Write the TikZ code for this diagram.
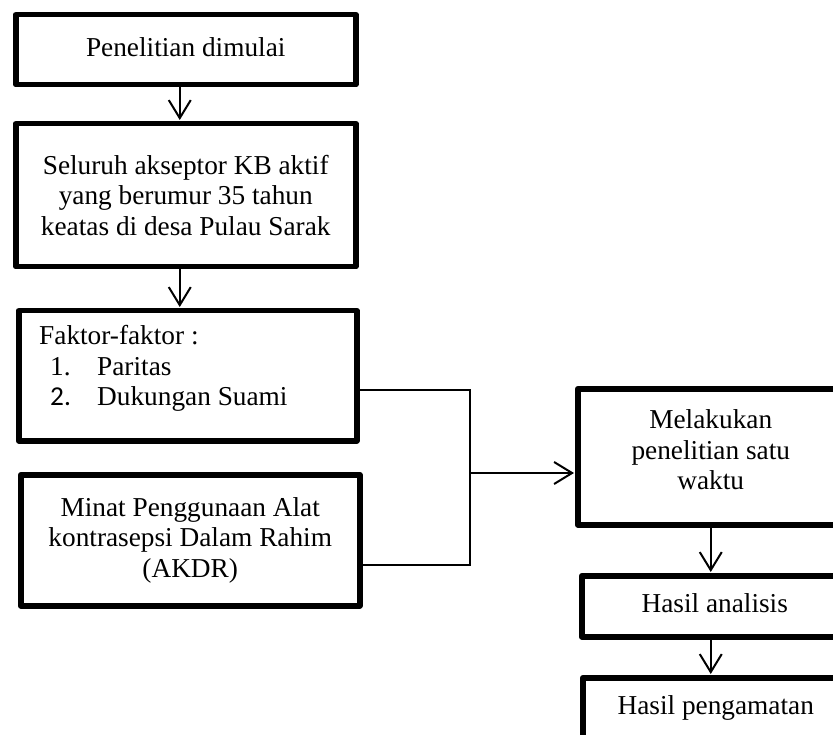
\documentclass[tikz,border=0pt]{standalone}
\usepackage{fontspec}
\setmainfont{Liberation Serif}
\newfontfamily\carlitofont{Carlito}
\usetikzlibrary{arrows.meta}
\tikzset{
  box/.style={draw, line width=5.5pt, line join=round, rectangle, anchor=north west, inner sep=0pt},
  txt/.style={inner sep=0pt, align=center, font=\fontsize{27.3}{30.5}\selectfont},
  arr/.style={line width=2pt, -{Straight Barb[length=18pt,width=22pt]}, shorten >=1pt},
  link/.style={line width=1.5pt}
}
\begin{document}
\begin{tikzpicture}[x=1pt,y=-1pt]
\clip (0,0) rectangle (833,735);
\fill[white] (0,0) rectangle (833,735);
\node[box, minimum width=340pt, minimum height=70pt] (b1) at (13,12) {};
\node[box, minimum width=340pt, minimum height=143pt] (b2) at (13,121) {};
\node[box, minimum width=338pt, minimum height=130pt] (b3) at (16,308) {};
\node[box, minimum width=339pt, minimum height=131pt] (b4) at (18,472) {};
\node[box, minimum width=266pt, minimum height=136pt] (b5) at (575,386) {};
\node[box, minimum width=266pt, minimum height=61pt] (b6) at (579,573) {};
\node[box, minimum width=266pt, minimum height=66pt] (b7) at (580,675) {};
\node[txt] (t1) at ([yshift=3pt]b1.center) {Penelitian dimulai};
\node[txt] (t2) at (b2.center) {Seluruh akseptor KB aktif\\yang berumur 35 tahun\\keatas di desa Pulau Sarak};
\node[txt, anchor=west, align=left] (t3) at ([xshift=23pt,yshift=7pt]b3.west)
  {Faktor-faktor :\\\hspace*{11pt}\makebox[47pt][l]{1.}Paritas\\\hspace*{11pt}\makebox[47pt][l]{\carlitofont 2.}Dukungan Suami};
\node[txt] (t4) at (b4.center) {Minat Penggunaan Alat\\kontrasepsi Dalam Rahim\\(AKDR)};
\node[txt] (t5) at ([yshift=7pt]b5.center) {Melakukan\\penelitian satu\\waktu};
\node[txt] (t6) at ([yshift=3pt]b6.center) {Hasil analisis};
\node[txt] (t7) at ([yshift=3pt]b7.center) {Hasil pengamatan};
\draw[arr] ([xshift=-6pt]b1.south) -- ([xshift=-6pt]b1.south |- b2.north);
\draw[arr] ([xshift=-6pt]b2.south) -- ([xshift=-6pt]b2.south |- b3.north);
\coordinate (j) at (470,473);
\draw[link] ([yshift=-14pt]b3.east) -| (j) |- ([yshift=-24.5pt]b4.east);
\draw[arr] (j) -- (j -| b5.west);
\draw[arr] (b5.south) -- (b5.south |- b6.north);
\draw[arr] (b5.south |- b6.south) -- (b5.south |- b7.north);
\end{tikzpicture}
\end{document}
